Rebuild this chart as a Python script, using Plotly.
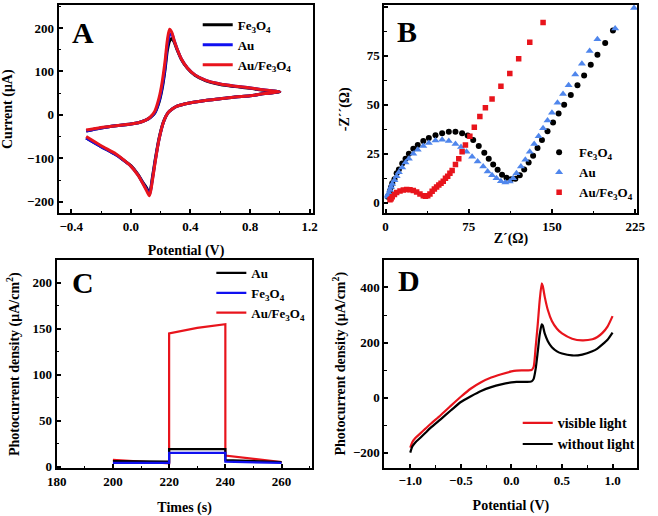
import plotly.graph_objects as go

# ---------------- Panel A: cyclic voltammetry ----------------
cv_potential = [-0.30, -0.20, -0.10, 0.00, 0.05, 0.10, 0.13, 0.16, 0.19, 0.21, 0.23, 0.245, 0.26, 0.275, 0.29, 0.31, 0.34, 0.38, 0.43, 0.50, 0.60, 0.70, 0.80, 0.90, 1.00,
                0.90, 0.80, 0.70, 0.60, 0.50, 0.42, 0.36, 0.31, 0.28, 0.25, 0.22, 0.19, 0.165, 0.145, 0.125, 0.105, 0.08, 0.05, 0.00, -0.05, -0.10, -0.20, -0.30]
cv_fe3o4 = [-37, -30, -25, -21, -18, -12, -6, 4, 30, 60, 105, 148, 170, 176, 168, 150, 127, 107, 91, 79, 70, 65, 61, 56, 53,
            49, 44, 41, 37, 33, 29, 25, 20, 14, 5, -15, -53, -100, -143, -180, -168, -155, -138, -117, -104, -92, -73, -53]
cv_au = [-37, -30, -25, -21, -18, -12, -6, 5, 33, 65, 112, 160, 184, 186, 172, 152, 128, 108, 92, 80, 71, 66, 62, 57, 53,
         49, 44, 41, 37, 33, 29, 25, 20, 14, 5, -16, -55, -103, -147, -183, -171, -157, -139, -118, -104, -92, -73, -53]
cv_aufe = [-35, -29, -25, -21, -18, -12, -5, 8, 40, 75, 125, 172, 197, 190, 172, 152, 128, 108, 92, 80, 71, 66, 62, 57, 53,
           49, 44, 41, 37, 33, 29, 25, 20, 14, 5, -16, -55, -105, -150, -186, -174, -158, -140, -118, -103, -90, -71, -50]

# ---------------- Panel B: Nyquist plot ----------------
eis_fe3o4_re = [2, 3, 4, 5, 6, 8, 10, 12, 15, 18, 21, 25, 29, 34, 39, 45, 51, 57, 63, 69, 74, 79, 84, 89, 93, 97, 101, 105, 109, 113,
                117, 121, 125, 129, 133, 137, 141, 146, 151, 156, 161, 167, 173, 179, 185, 191, 198, 205]
eis_fe3o4_im = [3, 4, 6, 8, 10, 12, 15, 17, 20, 22.5, 25, 27.5, 29.5, 31.5, 33, 34.5, 35.5, 36.3, 36.3, 35.5, 34.3, 32, 29, 25.5, 22.5, 19.5, 16.8, 14.3, 12.8, 12,
                12.3, 14, 17, 20.5, 24, 28, 32, 36.5, 41, 45.5, 50, 55, 60, 65, 70.5, 75.5, 81.5, 88]
eis_au_re = [1, 2, 3, 4, 5, 6, 8, 10, 12, 15, 18, 21, 25, 29, 34, 39, 45, 51, 57, 63, 68, 73, 78, 83, 88, 92, 96, 100, 104, 108,
             112, 115, 118, 122, 126, 130, 134, 138, 142, 146, 150, 155, 160, 165, 171, 177, 184, 191, 207, 224]
eis_au_im = [3, 4, 5, 6.5, 8, 9.5, 11.5, 13.5, 15.5, 18, 20.5, 22.5, 25, 27, 29, 30.5, 31.8, 32.2, 31.5, 30, 28.5, 26, 23.5, 21, 18.5, 16, 14, 12.5, 11, 10.3,
             10.8, 12.5, 15, 18.5, 22, 26, 30, 34, 38, 42, 46, 51, 55.5, 60, 65.5, 71, 77.5, 83.5, 89, 99.5]
eis_aufe_re = [4, 5, 6, 8, 10, 13, 16, 19, 22, 25, 28, 31, 34, 36, 38, 40, 42, 44, 46, 48, 50, 52, 54, 56, 58, 60, 63, 66, 69, 72,
               76, 80, 85, 90, 96, 104, 112, 120, 130, 142]
eis_aufe_im = [1.5, 2, 3, 4.2, 5.2, 6, 6.5, 6.7, 6.6, 6.2, 5.5, 4.5, 3.6, 3.3, 3.6, 4.5, 5.8, 7, 8, 9, 10, 11, 12.5, 13.5, 15, 16.5, 19.5, 22.5, 26, 29.5,
               34, 38.5, 44, 48.5, 53, 59.5, 66, 73.5, 82, 92]

# ---------------- Panel C: photocurrent vs time ----------------
it_time_au = [200, 220, 220, 240, 240, 260]
it_au = [6, 5.5, 19, 19, 7, 5]
it_time_fe = [200, 220, 220, 240, 240, 260]
it_fe = [4, 4, 15, 15, 5.5, 4]
it_time_aufe = [200, 220, 220, 230, 240, 240, 260]
it_aufe = [7.5, 3.5, 145, 151, 155, 12, 5]

# ---------------- Panel D: LSV ----------------
lsv_potential = [-1.0, -0.98, -0.95, -0.9, -0.85, -0.8, -0.7, -0.6, -0.5, -0.4, -0.3, -0.2, -0.1, 0.0, 0.05, 0.1, 0.15, 0.2,
                 0.22, 0.24, 0.26, 0.28, 0.30, 0.31, 0.33, 0.36, 0.40, 0.45, 0.5, 0.6, 0.7, 0.8, 0.85, 0.9, 0.95, 1.0]
lsv_light = [-182, -162, -147, -130, -113, -96, -64, -30, 3, 33, 56, 73, 85, 95, 98, 99, 99, 100,
             112, 185, 265, 355, 415, 405, 365, 318, 278, 250, 233, 214, 208, 212, 220, 235, 258, 296]
lsv_dark = [-200, -178, -163, -146, -128, -110, -79, -47, -16, 5, 24, 38, 48, 55, 57, 57, 57, 59,
            68, 105, 165, 230, 266, 262, 232, 205, 183, 168, 160, 153, 156, 168, 178, 193, 210, 236]

FONT = "Liberation Serif"
RED = "#e8141c"
BLUE = "#1010f0"
LBLUE = "#4f86ec"

fig = go.Figure()

# Panel A
for y, name, col in [(cv_fe3o4, "Fe<sub>3</sub>O<sub>4</sub>", "black"),
                     (cv_au, "Au", BLUE),
                     (cv_aufe, "Au/Fe<sub>3</sub>O<sub>4</sub>", RED)]:
    fig.add_trace(go.Scatter(x=cv_potential, y=y, mode="lines", name=name,
                             line=dict(color=col, width=3, shape="spline", smoothing=0.8),
                             xaxis="x", yaxis="y", legend="legend"))

# Panel B
fig.add_trace(go.Scatter(x=eis_fe3o4_re, y=eis_fe3o4_im, mode="markers", name="Fe<sub>3</sub>O<sub>4</sub>",
                         marker=dict(color="black", size=6, symbol="circle"), xaxis="x2", yaxis="y2", legend="legend2"))
fig.add_trace(go.Scatter(x=eis_au_re, y=eis_au_im, mode="markers", name="Au",
                         marker=dict(color=LBLUE, size=7, symbol="triangle-up"), xaxis="x2", yaxis="y2", legend="legend2"))
fig.add_trace(go.Scatter(x=eis_aufe_re, y=eis_aufe_im, mode="markers", name="Au/Fe<sub>3</sub>O<sub>4</sub>",
                         marker=dict(color=RED, size=5.5, symbol="square"), xaxis="x2", yaxis="y2", legend="legend2"))

# Panel C
fig.add_trace(go.Scatter(x=it_time_aufe, y=it_aufe, mode="lines", name="Au/Fe<sub>3</sub>O<sub>4</sub>",
                         line=dict(color=RED, width=2.2), xaxis="x3", yaxis="y3", legend="legend3", legendrank=3))
fig.add_trace(go.Scatter(x=it_time_au, y=it_au, mode="lines", name="Au",
                         line=dict(color="black", width=2.2), xaxis="x3", yaxis="y3", legend="legend3", legendrank=1))
fig.add_trace(go.Scatter(x=it_time_fe, y=it_fe, mode="lines", name="Fe<sub>3</sub>O<sub>4</sub>",
                         line=dict(color=BLUE, width=2.2), xaxis="x3", yaxis="y3", legend="legend3", legendrank=2))

# Panel D
fig.add_trace(go.Scatter(x=lsv_potential, y=lsv_light, mode="lines", name="visible light",
                         line=dict(color=RED, width=2.2, shape="spline", smoothing=0.6), xaxis="x4", yaxis="y4", legend="legend4"))
fig.add_trace(go.Scatter(x=lsv_potential, y=lsv_dark, mode="lines", name="without light",
                         line=dict(color="black", width=2.2, shape="spline", smoothing=0.6), xaxis="x4", yaxis="y4", legend="legend4"))

W, H = 658, 516
def dx(px):
    return px / W
def dy(px):
    return 1 - px / H

tickfont = dict(family=FONT, size=13, color="black", weight="bold")
titlefont = dict(family=FONT, size=14, color="black", weight="bold")

def axis(domain, rng, dtick, minor_dtick, title, anchor, tick0=0, fmt=None, standoff=None):
    d = dict(domain=domain, range=rng, dtick=dtick, tick0=tick0, anchor=anchor,
             showline=True, linewidth=2, linecolor="black", mirror=True,
             ticks="inside", ticklen=4, tickwidth=1.5, tickcolor="black",
             showgrid=False, zeroline=False, tickfont=tickfont,
             minor=dict(dtick=minor_dtick, tick0=tick0, ticks="inside", ticklen=2.5, tickwidth=1.2, tickcolor="black", showgrid=False),
             title=dict(text=title, font=titlefont))
    if fmt:
        d["tickformat"] = fmt
    if standoff is not None:
        d["title"]["standoff"] = standoff
    return d

xA = [dx(50), dx(312)]
yA = [dy(216), dy(5)]
xB = [dx(385), dx(645)]
yB = [dy(216), dy(5)]
xC = [dx(48), dx(311)]
yC = [dy(474), dy(263)]
xD = [dx(385), dx(645)]
yD = [dy(473), dy(263)]

photo_title = "Photocurrent density (μA/cm<sup>2</sup>)"

fig.update_layout(
    width=W, height=H, margin=dict(l=0, r=0, t=0, b=0),
    paper_bgcolor="white", plot_bgcolor="white",
    font=dict(family=FONT, size=13, color="black", weight="bold"),
    xaxis=axis(xA, [-0.485, 1.226], 0.4, 0.2, "Potential (V)", "y", fmt=".1f", standoff=12),
    yaxis=axis(yA, [-227, 253], 100, 50, "Current (μA)", "x", standoff=11),
    xaxis2=axis(xB, [-1, 227], 75, 37.5, "Z´(Ω)", "y2", standoff=0),
    yaxis2=axis(yB, [-5.5, 101], 25, 12.5, "-Z´´(Ω)", "x2", standoff=14),
    xaxis3=axis(xC, [180, 271], 20, 10, "Times (s)", "y3", tick0=180, standoff=14),
    yaxis3=axis(yC, [-2, 225], 50, 25, photo_title, "x3", standoff=10),
    xaxis4=axis(xD, [-1.255, 1.245], 0.5, 0.25, "Potential (V)", "y4", fmt=".1f", standoff=13),
    yaxis4=axis(yD, [-254, 500], 200, 100, photo_title, "x4", standoff=4),
    legend=dict(x=dx(193), y=dy(10), xanchor="left", yanchor="top", bgcolor="rgba(0,0,0,0)",
                font=dict(family=FONT, size=13, color="black", weight="bold"), tracegroupgap=0, itemwidth=30),
    legend2=dict(x=dx(544), y=dy(139), xanchor="left", yanchor="top", bgcolor="rgba(0,0,0,0)",
                 font=dict(family=FONT, size=13, color="black", weight="bold"), itemwidth=30),
    legend3=dict(x=dx(207), y=dy(261), xanchor="left", yanchor="top", bgcolor="rgba(0,0,0,0)",
                 font=dict(family=FONT, size=13, color="black", weight="bold"), itemwidth=30),
    legend4=dict(x=dx(522), y=dy(412), xanchor="left", yanchor="top", bgcolor="rgba(0,0,0,0)",
                 font=dict(family=FONT, size=14, color="black", weight="bold"), itemwidth=30),
    showlegend=True,
)

letters = [("A", "x", "y", 62, 33, 50, 312, 5, 216),
           ("B", "x2", "y2", 396, 32, 385, 645, 5, 216),
           ("C", "x3", "y3", 62, 286, 48, 311, 263, 474),
           ("D", "x4", "y4", 397, 284, 385, 645, 263, 473)]
for txt, xa, ya, lx, ly, x0, x1, y0, y1 in letters:
    fig.add_annotation(text=txt, xref=f"{xa} domain", yref=f"{ya} domain",
                       x=(lx - x0) / (x1 - x0), y=1 - (ly - y0) / (y1 - y0),
                       xanchor="left", yanchor="middle", showarrow=False,
                       font=dict(family=FONT, size=30, color="black", weight="bold"))

fig.write_html("out.html")
